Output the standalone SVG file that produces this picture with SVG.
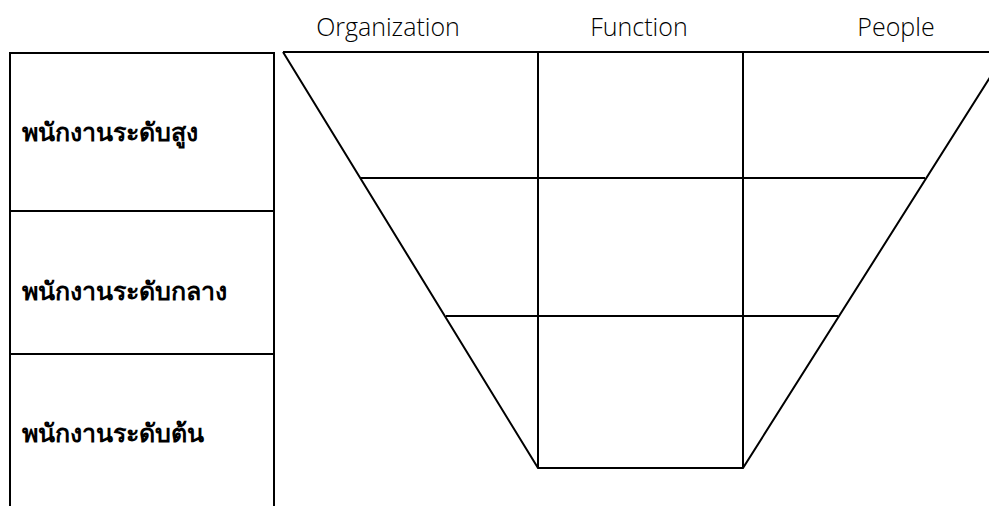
<svg xmlns="http://www.w3.org/2000/svg" width="989" height="506" viewBox="0 0 989 506">
<style>
.ln{stroke:#000;stroke-width:2;fill:none}
.th{font-family:"Noto Sans","DejaVu Sans",sans-serif;font-size:25px;font-weight:600;fill:#000}
.hd{font-family:"Open Sans","Noto Sans",sans-serif;font-size:25px;font-weight:300;fill:#000;text-anchor:middle}
</style>
<rect width="989" height="506" fill="#fff"/>
<g id="levels">
<g id="level-high"><rect class="ln" x="10" y="53" width="264" height="158"/><text class="th" x="22" y="141">พนักงานระดับสูง</text></g>
<g id="level-mid"><rect class="ln" x="10" y="211" width="264" height="143"/><text class="th" x="22" y="300">พนักงานระดับกลาง</text></g>
<g id="level-low"><path class="ln" d="M10,508V354H274V508"/><text class="th" x="22" y="442">พนักงานระดับต้น</text></g>
</g>
<g id="headers">
<text class="hd" x="388" y="36">Organization</text>
<text class="hd" x="639" y="36">Function</text>
<text class="hd" x="896" y="36">People</text>
</g>
<g id="funnel">
<path class="ln" d="M283,52H995M283,52L538,468H743L1006,52"/>
<path class="ln" d="M538,52V468M743,52V468"/>
<path class="ln" d="M361,178H925M446,316H838"/>
</g>
</svg>
